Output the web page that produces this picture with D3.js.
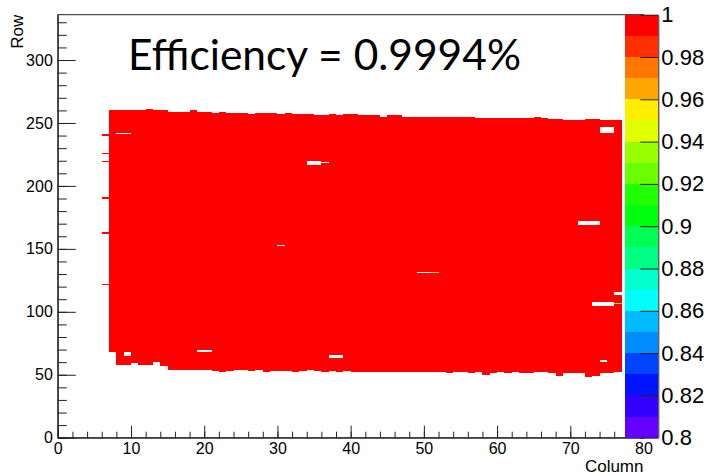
<!DOCTYPE html>
<html>
<head>
<meta charset="utf-8">
<script src="https://cdn.jsdelivr.net/npm/d3@7"></script>
<style>
  html, body { margin: 0; padding: 0; background: #fff; }
  svg { display: block; }
  .axis text { font-family: "Liberation Sans", Arial, sans-serif; fill: #000; }
  .axis line, .axis path { stroke: #222; }
</style>
</head>
<body>
<div id="chart"></div>
<script>
// pixel matrix of the sensor: 80 columns x 336 rows
var nColumns = 80;
var nRows = 336;

var xTicks = [0, 10, 20, 30, 40, 50, 60, 70, 80];
var yTicks = [0, 50, 100, 150, 200, 250, 300];
var zTicks = [0.8, 0.82, 0.84, 0.86, 0.88, 0.9, 0.92, 0.94, 0.96, 0.98, 1];

// filled area, columns 7..76 : lowest and highest row with efficiency 1
var firstColumn = 7;
var bottomRows = [68, 58, 58, 59, 58, 58, 60, 57, 54, 54,
                  54, 54, 54, 54, 53, 52, 53, 54, 54, 53,
                  54, 52, 53, 53, 53, 52, 53, 54, 53, 52,
                  53, 52, 53, 52, 52, 52, 52, 52, 52, 52,
                  52, 52, 52, 52, 52, 52, 51, 52, 52, 51,
                  52, 50, 51, 52, 51, 52, 51, 51, 52, 52,
                  51, 49, 51, 51, 51, 48, 49, 51, 51, 52];
var topRows = [259, 259, 259, 259, 259, 260, 259, 259, 258, 258,
               258, 259, 258, 258, 257, 258, 257, 257, 257, 256,
               257, 257, 257, 256, 257, 256, 256, 256, 255, 255,
               256, 255, 256, 256, 255, 255, 255, 254, 255, 255,
               254, 254, 254, 254, 254, 254, 254, 254, 254, 254,
               253, 253, 253, 253, 253, 253, 253, 253, 254, 253,
               252, 252, 251, 251, 251, 252, 252, 251, 251, 251];

// [column, first row, last row] with no entries
var emptyCells = [
  [8, 241, 241], [9, 241, 241],
  [9, 65, 67],
  [19, 68, 69], [20, 68, 69],
  [30, 152, 152],
  [34, 217, 219], [35, 217, 219], [36, 218, 218],
  [37, 63, 65], [38, 63, 65],
  [49, 131, 131], [50, 131, 131],
  [71, 169, 171], [72, 169, 171], [73, 169, 171],
  [73, 105, 107], [74, 105, 107], [75, 105, 107],
  [76, 113, 115],
  [74, 60, 61],
  [74, 242, 246], [75, 242, 246]
];
// isolated pixels left of the main area (efficiency 1)
var strayCells = [[6, 240], [6, 225], [6, 219], [6, 190], [6, 162], [6, 121]];
// pixels below 1
var lowCells = [[51, 131, 0.955], [76, 106, 0.925]];

var title = "Efficiency = 0.9994%";

var width = 716, height = 475;
var svg = d3.select("#chart").append("svg")
  .attr("width", width)
  .attr("height", height);

var x = d3.scaleLinear().domain([0, nColumns]).range([57.8, 643.5]);
var y = d3.scaleLinear().domain([0, nRows]).range([437.7, 14.7]);
var z = d3.scaleLinear().domain([0.8, 1]).range([437.7, 14.7]);

// ROOT "pretty palette" with 20 contours
var palette = d3.range(20).map(function(k) {
  var idx = Math.floor((k + 0.99) * 2.5);
  return d3.hsl(280 - (idx + 1) * 5.6, 1, 0.5).formatHex();
});
var color = d3.scaleQuantize().domain([0.8, 1]).range(palette);

// build the cell table
var cells = {};
function setCell(c, r, v) {
  if (!cells[c]) cells[c] = {};
  cells[c][r] = v;
}
bottomRows.forEach(function(b, i) {
  var c = firstColumn + i;
  for (var r = b; r <= topRows[i]; r++) setCell(c, r, 1);
});
emptyCells.forEach(function(h) {
  for (var r = h[1]; r <= h[2]; r++) delete cells[h[0]][r];
});
strayCells.forEach(function(s) { setCell(s[0], s[1], 1); });
lowCells.forEach(function(s) { setCell(s[0], s[1], s[2]); });

// merge vertical runs of equal cells
var runs = [];
Object.keys(cells).forEach(function(k) {
  var c = +k, col = cells[k];
  var rows = Object.keys(col).map(Number).sort(d3.ascending);
  var start = rows[0], prev = rows[0];
  for (var i = 1; i <= rows.length; i++) {
    var r = rows[i];
    if (i < rows.length && r === prev + 1 && col[r] === col[start]) { prev = r; continue; }
    runs.push({ col: c, r0: start, r1: prev, v: col[start] });
    start = r; prev = r;
  }
});

svg.append("g")
  .attr("shape-rendering", "crispEdges")
  .selectAll("rect")
  .data(runs)
  .join("rect")
  .attr("x", function(d) { return x(d.col); })
  .attr("width", function(d) { return x(d.col + 1) - x(d.col); })
  .attr("y", function(d) { return y(d.r1 + 1); })
  .attr("height", function(d) { return y(d.r0) - y(d.r1 + 1); })
  .attr("fill", function(d) { return color(d.v); });

// frame
svg.append("rect")
  .attr("x", x(0)).attr("y", y(nRows))
  .attr("width", x(nColumns) - x(0)).attr("height", y(0) - y(nRows))
  .attr("fill", "none").attr("stroke", "#222");

// x axis
svg.append("g").attr("class", "axis")
  .attr("transform", "translate(0," + y(0) + ")")
  .call(d3.axisBottom(x).tickValues(xTicks).tickSize(-12).tickSizeOuter(0).tickPadding(5)
    .tickFormat(d3.format("d")))
  .call(function(g) { g.selectAll("text").style("font-size", "16px"); });
svg.append("g").attr("class", "axis")
  .attr("transform", "translate(0," + y(0) + ")")
  .call(d3.axisBottom(x).tickValues(d3.range(0, 81, 2)).tickSize(-6).tickFormat(""))
  .call(function(g) { g.select(".domain").remove(); });

// y axis
svg.append("g").attr("class", "axis")
  .attr("transform", "translate(" + x(0) + ",0)")
  .call(d3.axisLeft(y).tickValues(yTicks).tickSize(-18).tickSizeOuter(0).tickPadding(5)
    .tickFormat(d3.format("d")))
  .call(function(g) { g.selectAll("text").style("font-size", "16px"); });
svg.append("g").attr("class", "axis")
  .attr("transform", "translate(" + x(0) + ",0)")
  .call(d3.axisLeft(y).tickValues(d3.range(0, 331, 10)).tickSize(-9).tickFormat(""))
  .call(function(g) { g.select(".domain").remove(); });

// axis titles
svg.append("text")
  .attr("x", x(nColumns)).attr("y", 472)
  .attr("text-anchor", "end")
  .style("font-family", "Liberation Sans, Arial, sans-serif")
  .style("font-size", "17px")
  .text("Column");
svg.append("text")
  .attr("transform", "translate(23," + y(nRows) + ") rotate(-90)")
  .attr("text-anchor", "end")
  .style("font-family", "Liberation Sans, Arial, sans-serif")
  .style("font-size", "17px")
  .text("Row");

// colour palette
var palX0 = 625, palX1 = 658.3;
svg.append("g")
  .attr("shape-rendering", "crispEdges")
  .selectAll("rect")
  .data(palette)
  .join("rect")
  .attr("x", palX0)
  .attr("width", palX1 - palX0)
  .attr("y", function(d, i) { return z(0.8 + (i + 1) * 0.01); })
  .attr("height", function(d, i) { return z(0.8 + i * 0.01) - z(0.8 + (i + 1) * 0.01); })
  .attr("fill", function(d) { return d; });

svg.append("g").attr("class", "axis")
  .attr("transform", "translate(" + palX1 + ",0)")
  .call(d3.axisRight(z).tickValues(zTicks).tickSize(-18).tickSizeOuter(0).tickPadding(3)
    .tickFormat(d3.format("~g")))
  .call(function(g) { g.selectAll("text").style("font-size", "22px"); });

// title
svg.append("text")
  .attr("x", 128).attr("y", 70)
  .attr("textLength", 393)
  .attr("lengthAdjust", "spacingAndGlyphs")
  .style("font-family", "Lato, 'Open Sans', sans-serif")
  .style("font-size", "42px")
  .text(title);
</script>
</body>
</html>
